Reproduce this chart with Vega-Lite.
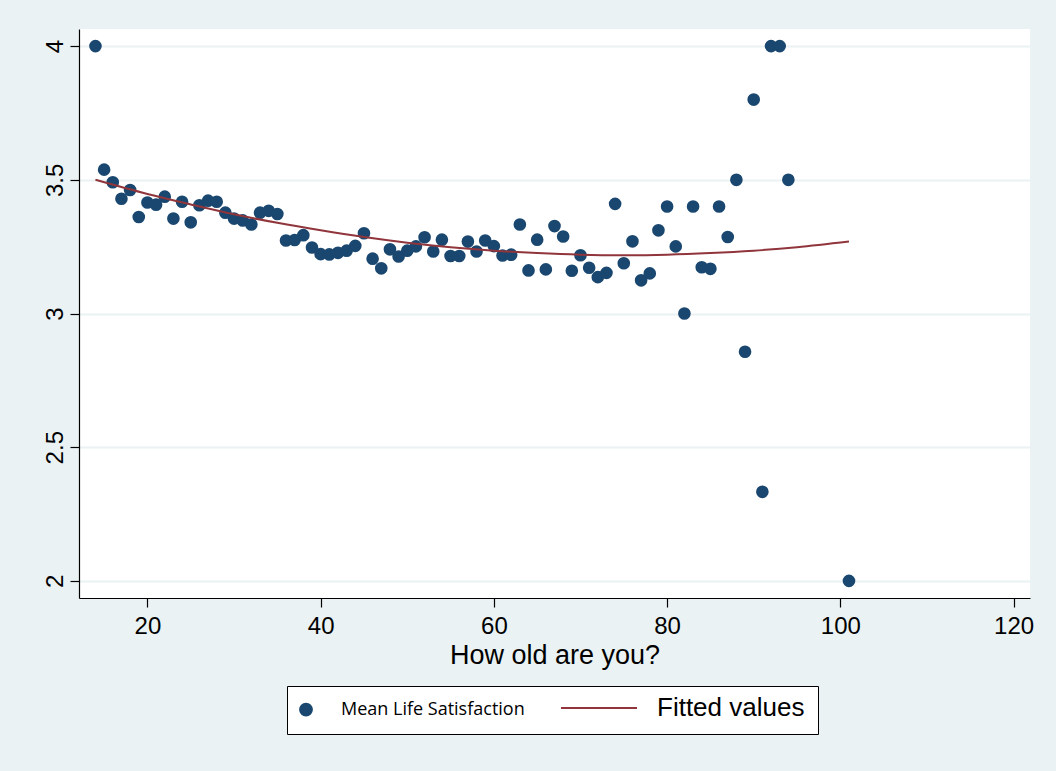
{
  "$schema": "https://vega.github.io/schema/vega-lite/v6.json",
  "width": 951,
  "height": 569,
  "autosize": {"type": "none"},
  "padding": {"left": 79, "top": 29, "right": 26, "bottom": 173},
  "background": "#EAF2F3",
  "config": {"view": {"fill": "white", "stroke": null}, "font": "Liberation Sans"},
  "datasets": {
    "points": [
      {"age": 14, "satisfaction": 4.0}, {"age": 15, "satisfaction": 3.538}, {"age": 16, "satisfaction": 3.491},
      {"age": 17, "satisfaction": 3.429}, {"age": 18, "satisfaction": 3.462}, {"age": 19, "satisfaction": 3.361},
      {"age": 20, "satisfaction": 3.415}, {"age": 21, "satisfaction": 3.407}, {"age": 22, "satisfaction": 3.437},
      {"age": 23, "satisfaction": 3.355}, {"age": 24, "satisfaction": 3.418}, {"age": 25, "satisfaction": 3.341},
      {"age": 26, "satisfaction": 3.405}, {"age": 27, "satisfaction": 3.422}, {"age": 28, "satisfaction": 3.418},
      {"age": 29, "satisfaction": 3.377}, {"age": 30, "satisfaction": 3.355}, {"age": 31, "satisfaction": 3.348},
      {"age": 32, "satisfaction": 3.333}, {"age": 33, "satisfaction": 3.377}, {"age": 34, "satisfaction": 3.384},
      {"age": 35, "satisfaction": 3.372}, {"age": 36, "satisfaction": 3.273}, {"age": 37, "satisfaction": 3.275},
      {"age": 38, "satisfaction": 3.293}, {"age": 39, "satisfaction": 3.247}, {"age": 40, "satisfaction": 3.222},
      {"age": 41, "satisfaction": 3.221}, {"age": 42, "satisfaction": 3.227}, {"age": 43, "satisfaction": 3.235},
      {"age": 44, "satisfaction": 3.253}, {"age": 45, "satisfaction": 3.300}, {"age": 46, "satisfaction": 3.205},
      {"age": 47, "satisfaction": 3.169}, {"age": 48, "satisfaction": 3.240}, {"age": 49, "satisfaction": 3.213},
      {"age": 50, "satisfaction": 3.235}, {"age": 51, "satisfaction": 3.251}, {"age": 52, "satisfaction": 3.285},
      {"age": 53, "satisfaction": 3.232}, {"age": 54, "satisfaction": 3.276}, {"age": 55, "satisfaction": 3.215},
      {"age": 56, "satisfaction": 3.215}, {"age": 57, "satisfaction": 3.269}, {"age": 58, "satisfaction": 3.232},
      {"age": 59, "satisfaction": 3.273}, {"age": 60, "satisfaction": 3.252}, {"age": 61, "satisfaction": 3.217},
      {"age": 62, "satisfaction": 3.220}, {"age": 63, "satisfaction": 3.333}, {"age": 64, "satisfaction": 3.161},
      {"age": 65, "satisfaction": 3.276}, {"age": 66, "satisfaction": 3.165}, {"age": 67, "satisfaction": 3.327},
      {"age": 68, "satisfaction": 3.288}, {"age": 69, "satisfaction": 3.160}, {"age": 70, "satisfaction": 3.218},
      {"age": 71, "satisfaction": 3.171}, {"age": 72, "satisfaction": 3.136}, {"age": 73, "satisfaction": 3.152},
      {"age": 74, "satisfaction": 3.410}, {"age": 75, "satisfaction": 3.188}, {"age": 76, "satisfaction": 3.270},
      {"age": 77, "satisfaction": 3.124}, {"age": 78, "satisfaction": 3.150}, {"age": 79, "satisfaction": 3.311},
      {"age": 80, "satisfaction": 3.400}, {"age": 81, "satisfaction": 3.251}, {"age": 82, "satisfaction": 3.0},
      {"age": 83, "satisfaction": 3.400}, {"age": 84, "satisfaction": 3.173}, {"age": 85, "satisfaction": 3.167},
      {"age": 86, "satisfaction": 3.400}, {"age": 87, "satisfaction": 3.286}, {"age": 88, "satisfaction": 3.5},
      {"age": 89, "satisfaction": 2.857}, {"age": 90, "satisfaction": 3.8}, {"age": 91, "satisfaction": 2.333},
      {"age": 92, "satisfaction": 4.0}, {"age": 93, "satisfaction": 4.0}, {"age": 94, "satisfaction": 3.5},
      {"age": 101, "satisfaction": 2.0}
    ],
    "fit": [
      {"age": 14, "fitted": 3.500}, {"age": 20, "fitted": 3.447}, {"age": 25, "fitted": 3.408},
      {"age": 30, "fitted": 3.371}, {"age": 35, "fitted": 3.339}, {"age": 40, "fitted": 3.311},
      {"age": 45, "fitted": 3.286}, {"age": 50, "fitted": 3.265}, {"age": 55, "fitted": 3.248},
      {"age": 60, "fitted": 3.235}, {"age": 65, "fitted": 3.226}, {"age": 70, "fitted": 3.220},
      {"age": 75, "fitted": 3.218}, {"age": 80, "fitted": 3.220}, {"age": 85, "fitted": 3.226},
      {"age": 90, "fitted": 3.235}, {"age": 95, "fitted": 3.248}, {"age": 101, "fitted": 3.269}
    ]
  },
  "layer": [
    {
      "data": {"name": "points"},
      "mark": {"type": "circle", "size": 160, "opacity": 1},
      "encoding": {
        "x": {
          "field": "age", "type": "quantitative",
          "scale": {"domain": [12.1, 121.9], "nice": false, "zero": false},
          "axis": {
            "values": [20, 40, 60, 80, 100, 120],
            "title": "How old are you?",
            "titleFontSize": 27, "titleFontWeight": "normal", "titleColor": "black", "titleFont": "Liberation Sans",
            "labelFontSize": 24, "labelColor": "black", "labelFont": "Liberation Sans",
            "tickColor": "black", "tickSize": 9, "tickWidth": 1.2,
            "domainColor": "black", "domainWidth": 1.2,
            "grid": false, "labelPadding": 7, "titlePadding": 4, "labelFlush": false
          }
        },
        "y": {
          "field": "satisfaction", "type": "quantitative",
          "scale": {"domain": [1.936, 4.064], "nice": false, "zero": false},
          "axis": {
            "values": [2, 2.5, 3, 3.5, 4],
            "format": ".1~f",
            "title": null,
            "labelFontSize": 24, "labelColor": "black", "labelFont": "Liberation Sans",
            "labelAngle": 270, "labelAlign": "center", "labelBaseline": "bottom",
            "labelPadding": 3,
            "tickColor": "black", "tickSize": 9, "tickWidth": 1.2,
            "domainColor": "black", "domainWidth": 1.2,
            "grid": true, "gridColor": "#EAF2F3", "gridWidth": 2, "labelFlush": false
          }
        },
        "color": {
          "datum": "Mean Life Satisfaction",
          "type": "nominal",
          "scale": {"domain": ["Mean Life Satisfaction", "Fitted values"], "range": ["#1A476F", "#90353B"]},
          "legend": {
            "orient": "none", "legendX": 208, "legendY": 657,
            "direction": "horizontal", "columns": 2, "title": null,
            "symbolSize": 130, "symbolStrokeWidth": 2, "symbolOffset": -3,
            "labelFontSize": 26, "labelColor": "black", "labelLimit": 400, "labelOffset": 31,
            "strokeColor": "black", "fillColor": "white", "padding": 13, "columnPadding": 32,
            "encoding": {
              "symbols": {
                "shape": {"value": {"expr": "datum.value === 'Fitted values' ? 'stroke' : 'circle'"}},
                "size": {"value": {"expr": "datum.value === 'Fitted values' ? 5776 : 140"}},
                "fill": {"value": {"expr": "datum.value === 'Fitted values' ? 'transparent' : '#1A476F'"}},
                "stroke": {"value": {"expr": "datum.value === 'Fitted values' ? '#90353B' : 'transparent'"}},
                "strokeWidth": {"value": 2},
                "opacity": {"value": 1}
              },
              "labels": {
                "font": {"value": {"expr": "datum.value === 'Fitted values' ? 'Liberation Sans' : 'Open Sans'"}},
                "fontSize": {"value": {"expr": "datum.value === 'Fitted values' ? 26 : 18"}},
                "dx": {"value": {"expr": "datum.value === 'Fitted values' ? 18 : -5"}}
              }
            }
          }
        }
      }
    },
    {
      "data": {"name": "fit"},
      "mark": {"type": "line", "strokeWidth": 2, "interpolate": "monotone"},
      "encoding": {
        "x": {"field": "age", "type": "quantitative"},
        "y": {"field": "fitted", "type": "quantitative"},
        "color": {"datum": "Fitted values", "type": "nominal"}
      }
    }
  ]
}
